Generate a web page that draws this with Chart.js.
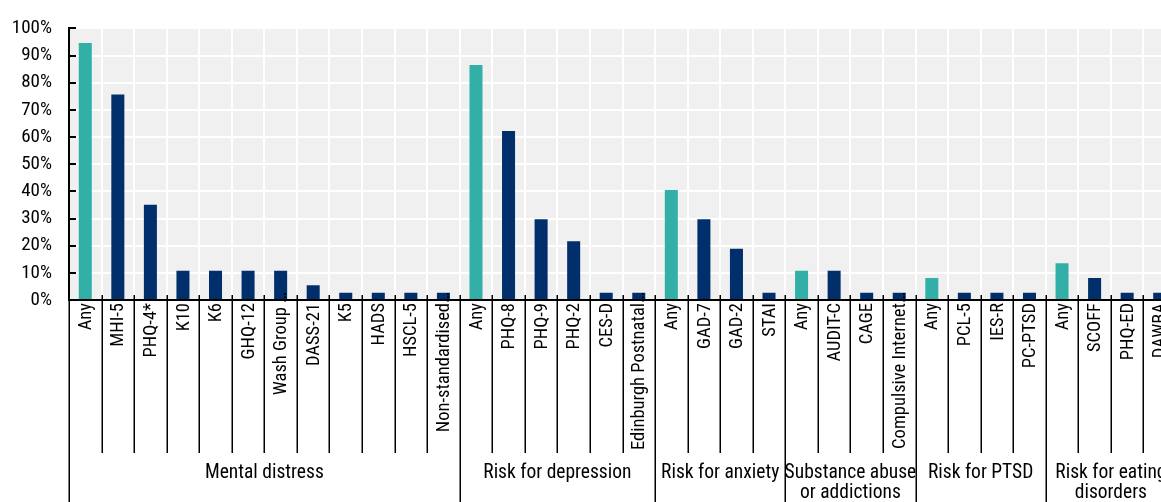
<!DOCTYPE html>
<html>
<head>
<meta charset="utf-8">
<script src="https://cdn.jsdelivr.net/npm/chart.js@4.4.1/dist/chart.umd.min.js"></script>
<style>
  html, body { margin: 0; padding: 0; background: #fff; overflow: hidden; }
  #chart { display: block; }
</style>
</head>
<body>
<canvas id="chart" width="1176" height="502"></canvas>
<script>
// categories, grouped by measure
const groupNames = [
    ["Mental distress"],
    ["Risk for depression"],
    ["Risk for anxiety"],
    ["Substance abuse", "or addictions"],
    ["Risk for PTSD"],
    ["Risk for eating", "disorders"]
];
const groupSizes = [12, 6, 4, 4, 4, 4];

const categories = [
    "Any", "MHI-5", "PHQ-4*", "K10", "K6", "GHQ-12", "Wash Group …", "DASS-21", "K5", "HADS", "HSCL-5", "Non-standardised…",
    "Any", "PHQ-8", "PHQ-9", "PHQ-2", "CES-D", "Edinburgh Postnatal…",
    "Any", "GAD-7", "GAD-2", "STAI",
    "Any", "AUDIT-C", "CAGE", "Compulsive Internet…",
    "Any", "PCL-5", "IES-R", "PC-PTSD",
    "Any", "SCOFF", "PHQ-ED", "DAWBA"
];

// share of studies using each measure (%)
const shares = [
    94.6, 75.7, 35.1, 10.8, 10.8, 10.8, 10.8, 5.4, 2.7, 2.7, 2.7, 2.7,
    86.5, 62.2, 29.7, 21.6, 2.7, 2.7,
    40.5, 29.7, 18.9, 2.7,
    10.8, 10.8, 2.7, 2.7,
    8.1, 2.7, 2.7, 2.7,
    13.5, 8.1, 2.7, 2.7
];

const yTicks = [0, 10, 20, 30, 40, 50, 60, 70, 80, 90, 100];

const TEAL = "#32b0a8";
const NAVY = "#002f6c";
const FONT = '"Liberation Sans Narrow", "Arial Narrow", "Roboto Condensed", sans-serif';

const barColors = categories.map(c => c === "Any" ? TEAL : NAVY);

// plot background plus the two-level category axis below the bars
const axisPlugin = {
    id: "axisPlugin",
    beforeDraw(chart) {
        const { ctx, chartArea } = chart;
        ctx.save();
        ctx.fillStyle = "#f0f0f0";
        ctx.fillRect(chartArea.left, chartArea.top, chartArea.right - chartArea.left, chartArea.bottom - chartArea.top);
        ctx.restore();
    },
    afterDraw(chart) {
        const { ctx, chartArea, scales } = chart;
        const x = scales.x, y = scales.y;
        const n = categories.length;
        const w = (chartArea.right - chartArea.left) / n;
        const base = y.getPixelForValue(0);
        const H = chart.height;

        ctx.save();
        ctx.strokeStyle = "#000";
        ctx.fillStyle = "#000";

        // small inward ticks on the value axis
        ctx.lineWidth = 2;
        yTicks.forEach(v => {
            const py = Math.round(y.getPixelForValue(v));
            ctx.beginPath();
            ctx.moveTo(chartArea.left, py);
            ctx.lineTo(chartArea.left + 7, py);
            ctx.stroke();
        });

        // group boundaries
        const groupEdges = new Set([0]);
        let acc = 0;
        groupSizes.forEach(s => { acc += s; groupEdges.add(acc); });

        ctx.lineWidth = 1.5;
        for (let i = 0; i <= n; i++) {
            const px = Math.round(chartArea.left + i * w) + 0.25;
            ctx.beginPath();
            ctx.moveTo(px, base - 5);
            ctx.lineTo(px, groupEdges.has(i) ? H : 453);
            ctx.stroke();
        }

        // category labels, rotated, reading upward
        ctx.font = "18.5px " + FONT;
        ctx.textAlign = "right";
        ctx.textBaseline = "middle";
        categories.forEach((lab, i) => {
            const cx = x.getPixelForValue(i);
            let shift = 0;
            if (lab.endsWith("…")) shift = ctx.measureText("…").width;
            ctx.save();
            ctx.translate(cx + 1, base + 3);
            ctx.rotate(-Math.PI / 2);
            ctx.fillText(lab, shift, 0);
            ctx.restore();
        });

        // group labels
        ctx.font = "19.5px " + FONT;
        ctx.textAlign = "center";
        ctx.textBaseline = "alphabetic";
        let start = 0;
        groupSizes.forEach((s, g) => {
            const cx = chartArea.left + (start + s / 2) * w;
            groupNames[g].forEach((line, k) => {
                ctx.fillText(line, cx, 478 + k * 20);
            });
            start += s;
        });

        ctx.restore();
    }
};

new Chart(document.getElementById("chart"), {
    type: "bar",
    data: {
        labels: categories,
        datasets: [{
            data: shares,
            backgroundColor: barColors,
            borderWidth: 0,
            categoryPercentage: 1,
            barPercentage: 0.4
        }]
    },
    options: {
        responsive: false,
        animation: false,
        devicePixelRatio: 1,
        layout: { padding: { top: 24, right: 0, bottom: 0, left: 0 } },
        plugins: {
            legend: { display: false },
            tooltip: { enabled: false }
        },
        scales: {
            x: {
                offset: true,
                afterFit: s => { s.height = 202; },
                grid: { color: "#ffffff", lineWidth: 2, drawTicks: false, offset: true },
                border: { color: "#000", width: 2 },
                ticks: { display: false }
            },
            y: {
                min: 0,
                max: 100,
                afterFit: s => { s.width = 69; },
                grid: { color: "#ffffff", lineWidth: 2, drawTicks: false },
                border: { color: "#000", width: 2 },
                ticks: {
                    stepSize: 10,
                    padding: 17,
                    color: "#000",
                    font: { family: FONT, size: 19 },
                    callback: v => v + "%"
                }
            }
        }
    },
    plugins: [axisPlugin]
});
</script>
</body>
</html>
